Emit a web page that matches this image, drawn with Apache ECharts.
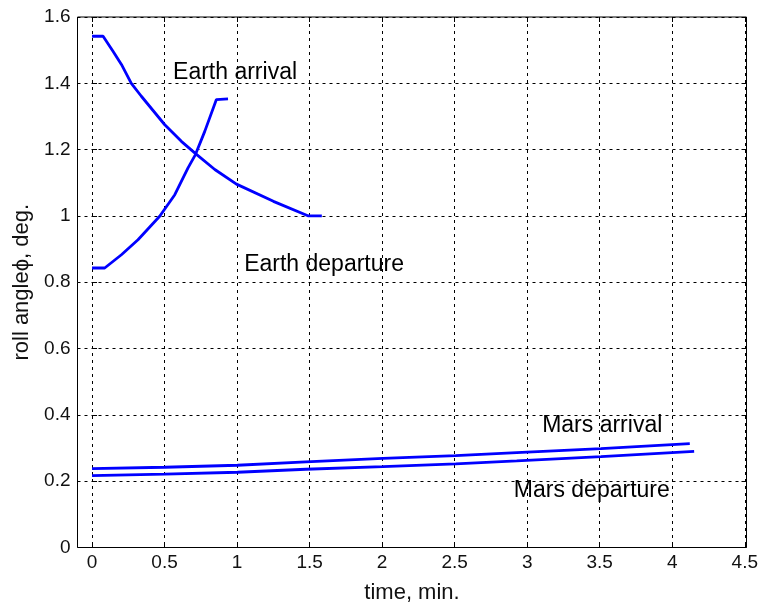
<!DOCTYPE html>
<html>
<head>
<meta charset="utf-8">
<script src="https://cdn.jsdelivr.net/npm/echarts@6/dist/echarts.min.js"></script>
<style>
html,body{margin:0;padding:0;background:#fff;}
#c{width:761px;height:609px;}
</style>
</head>
<body>
<div id="c"></div>
<script>
// ---- data ----
var earthArrivalX = [0, 0.076, 0.144, 0.202, 0.27, 0.339, 0.5, 0.614, 0.72, 0.844, 0.993, 1.247, 1.488, 1.58];
var earthArrivalY = [1.542, 1.542, 1.497, 1.457, 1.4, 1.361, 1.275, 1.225, 1.185, 1.14, 1.096, 1.044, 1.0, 1.0];

var earthDepartureX = [0, 0.087, 0.202, 0.316, 0.465, 0.569, 0.66, 0.711, 0.775, 0.855, 0.935];
var earthDepartureY = [0.843, 0.843, 0.883, 0.928, 0.999, 1.064, 1.145, 1.185, 1.255, 1.351, 1.353];

var marsArrivalX = [0, 0.5, 1.0, 1.47, 2.0, 2.5, 2.92, 3.5, 4.11];
var marsArrivalY = [0.238, 0.242, 0.248, 0.258, 0.269, 0.277, 0.286, 0.298, 0.313];

var marsDepartureX = [0, 0.5, 1.0, 1.47, 2.0, 2.5, 2.92, 3.5, 4.14];
var marsDepartureY = [0.217, 0.221, 0.227, 0.236, 0.244, 0.252, 0.261, 0.274, 0.290];

var annotationText = ['Earth arrival', 'Earth departure', 'Mars arrival', 'Mars departure'];
var annotationX = [0.557, 1.046, 3.095, 2.90];
var annotationY = [1.433, 0.852, 0.368, 0.171];

var xTickMin = 0, xTickMax = 4.5, xTickStep = 0.5;
var xRangeMin = -0.1, xRangeMax = 4.5;
var yMin = 0, yMax = 1.6, yStep = 0.2;

var xAxisTitle = 'time, min.';
var yAxisTitle = 'roll angleϕ, deg.';

// ---- chart ----
function zip(xs, ys) { return xs.map(function (x, i) { return [x, ys[i]]; }); }

var FONT = '"Liberation Sans", Arial, sans-serif';
var TXT = '#111';
var gridTop = 17, gridBottom = 61.5, gridRight = 14.5;

var lineStyle = { color: '#0000ff', width: 2.8 };
function lineSeries(name, xs, ys) {
  return {
    type: 'line', name: name, xAxisIndex: 0, yAxisIndex: 0,
    data: zip(xs, ys), showSymbol: false, symbol: 'none',
    lineStyle: lineStyle, animation: false, z: 5
  };
}

var dashed = { show: true, lineStyle: { color: '#000', type: [3, 4], width: 1 } };

var option = {
  animation: false,
  backgroundColor: '#fff',
  grid: [
    { left: 77.5, right: gridRight, top: gridTop, bottom: gridBottom, show: true,
      borderColor: '#000', borderWidth: 1, backgroundColor: '#fff', containLabel: false },
    { left: 92, right: gridRight, top: gridTop, bottom: gridBottom, show: false, containLabel: false }
  ],
  xAxis: [
    { type: 'value', gridIndex: 0, min: xRangeMin, max: xRangeMax,
      axisLine: { show: false }, axisTick: { show: false }, axisLabel: { show: false },
      splitLine: { show: false },
      name: xAxisTitle, nameLocation: 'middle', nameGap: 34,
      nameTextStyle: { fontFamily: FONT, fontSize: 22, color: TXT } },
    { type: 'value', gridIndex: 1, min: xTickMin, max: xTickMax, interval: xTickStep,
      position: 'bottom',
      axisLine: { show: false },
      axisTick: { show: true, inside: true, length: 5, lineStyle: { color: '#000' } },
      axisLabel: { show: true, margin: 6, fontFamily: FONT, fontSize: 19, color: TXT,
        showMinLabel: true, showMaxLabel: true },
      splitLine: dashed },
    { type: 'value', gridIndex: 1, min: xTickMin, max: xTickMax, interval: xTickStep,
      position: 'top',
      axisLine: { show: false },
      axisTick: { show: true, inside: true, length: 5, lineStyle: { color: '#000' } },
      axisLabel: { show: false }, splitLine: { show: false } }
  ],
  yAxis: [
    { type: 'value', gridIndex: 0, min: yMin, max: yMax, interval: yStep, position: 'left',
      axisLine: { show: false },
      axisTick: { show: true, inside: true, length: 5, lineStyle: { color: '#000' } },
      axisLabel: { show: true, margin: 7, fontFamily: FONT, fontSize: 19, color: TXT,
        showMinLabel: true, showMaxLabel: true },
      splitLine: dashed,
      name: yAxisTitle, nameLocation: 'middle', nameGap: 45, nameRotate: 90,
      nameTextStyle: { fontFamily: FONT, fontSize: 22, color: TXT } },
    { type: 'value', gridIndex: 0, min: yMin, max: yMax, interval: yStep, position: 'right',
      axisLine: { show: false },
      axisTick: { show: true, inside: true, length: 5, lineStyle: { color: '#000' } },
      axisLabel: { show: false }, splitLine: { show: false } },
    { type: 'value', gridIndex: 1, min: yMin, max: yMax, interval: yStep, show: false }
  ],
  series: [
    lineSeries('Earth arrival', earthArrivalX, earthArrivalY),
    lineSeries('Earth departure', earthDepartureX, earthDepartureY),
    lineSeries('Mars arrival', marsArrivalX, marsArrivalY),
    lineSeries('Mars departure', marsDepartureX, marsDepartureY),
    {
      type: 'scatter', xAxisIndex: 0, yAxisIndex: 0, symbolSize: 0, z: 6,
      silent: true,
      itemStyle: { opacity: 1 },
      data: annotationText.map(function (t, i) {
        return { name: t, value: [annotationX[i], annotationY[i]] };
      }),
      label: {
        show: true, position: [0, 0], align: 'left', verticalAlign: 'middle',
        formatter: function (p) { return p.name; },
        fontFamily: FONT, fontSize: 23, color: '#000', opacity: 1,
        textBorderWidth: 0
      }
    }
  ]
};

var chart = echarts.init(document.getElementById('c'), null, { renderer: 'canvas' });
chart.setOption(option);
</script>
</body>
</html>
